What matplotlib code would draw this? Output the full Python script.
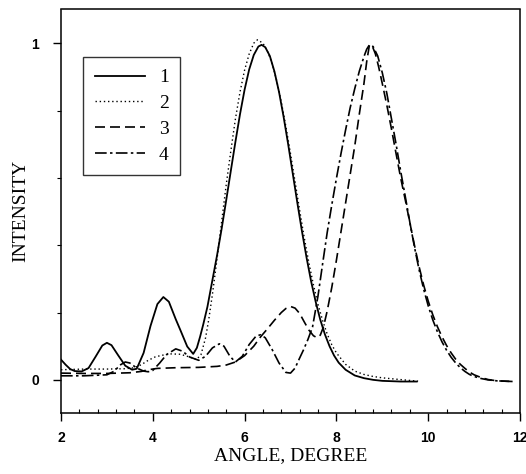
import matplotlib
matplotlib.use('Agg')
import matplotlib.pyplot as plt
from matplotlib.ticker import MultipleLocator, FixedLocator

# curve 1 (solid)
angle_1 = [2.00, 2.10, 2.20, 2.30, 2.45, 2.60, 2.75, 2.90, 3.00, 3.10, 3.25, 3.40,
           3.55, 3.65, 3.80, 3.95, 4.10, 4.23, 4.35, 4.50, 4.60, 4.75, 4.88, 4.96,
           5.03, 5.10, 5.19, 5.30, 5.40, 5.50, 5.60, 5.70, 5.80, 5.90, 6.00, 6.10,
           6.20, 6.30, 6.37, 6.45, 6.55, 6.65, 6.75, 6.85, 6.95, 7.05, 7.15, 7.25,
           7.35, 7.45, 7.55, 7.65, 7.75, 7.85, 7.95, 8.05, 8.20, 8.40, 8.60, 8.80,
           9.00, 9.40, 9.75]
intensity_1 = [0.060, 0.045, 0.032, 0.026, 0.025, 0.035, 0.068, 0.102, 0.110, 0.103, 0.072, 0.042,
               0.030, 0.033, 0.080, 0.160, 0.225, 0.246, 0.232, 0.180, 0.148, 0.099, 0.077, 0.095,
               0.128, 0.165, 0.217, 0.297, 0.370, 0.449, 0.534, 0.621, 0.707, 0.789, 0.862, 0.922,
               0.965, 0.990, 0.995, 0.988, 0.962, 0.916, 0.855, 0.781, 0.699, 0.612, 0.525, 0.441,
               0.363, 0.292, 0.231, 0.178, 0.135, 0.100, 0.072, 0.051, 0.030, 0.013, 0.005, 0.000,
               -0.003, -0.005, -0.005]

# curve 2 (dotted)
angle_2 = [2.00, 2.50, 3.00, 3.40, 3.60, 3.75, 3.90, 4.05, 4.20, 4.40, 4.60, 4.80,
           4.95, 5.05, 5.15, 5.22, 5.30, 5.40, 5.50, 5.60, 5.70, 5.80, 5.90, 6.00,
           6.10, 6.20, 6.28, 6.40, 6.50, 6.60, 6.70, 6.80, 6.90, 7.00, 7.10, 7.20,
           7.30, 7.40, 7.50, 7.60, 7.70, 7.80, 7.90, 8.00, 8.20, 8.40, 8.60, 8.80,
           9.00, 9.30, 9.78]
intensity_2 = [0.030, 0.032, 0.032, 0.033, 0.036, 0.045, 0.058, 0.068, 0.073, 0.077, 0.076, 0.068,
               0.060, 0.075, 0.125, 0.180, 0.255, 0.360, 0.470, 0.580, 0.680, 0.775, 0.855, 0.920,
               0.968, 1.000, 1.010, 1.000, 0.975, 0.940, 0.888, 0.825, 0.752, 0.672, 0.588, 0.503,
               0.422, 0.348, 0.282, 0.224, 0.176, 0.136, 0.104, 0.080, 0.046, 0.026, 0.016, 0.010,
               0.006, 0.002, -0.004]

# curve 3 (dashed)
angle_3 = [2.00, 2.50, 3.00, 3.50, 3.75, 3.90, 4.10, 4.50, 5.00, 5.40, 5.60, 5.80,
           6.00, 6.20, 6.35, 6.50, 6.65, 6.80, 6.90, 7.00, 7.10, 7.20, 7.30, 7.40,
           7.50, 7.58, 7.65, 7.72, 7.80, 7.90, 8.00, 8.10, 8.20, 8.30, 8.40, 8.50,
           8.60, 8.66, 8.72, 8.78, 8.85, 8.92, 9.00, 9.10, 9.20, 9.30, 9.40, 9.50,
           9.60, 9.70, 9.80, 9.90, 10.00, 10.10, 10.20, 10.30, 10.40, 10.50, 10.60,
           10.70, 10.80, 10.90, 11.00, 11.15, 11.30, 11.50, 11.85]
intensity_3 = [0.020, 0.019, 0.019, 0.021, 0.025, 0.030, 0.034, 0.036, 0.037, 0.040, 0.044, 0.053,
               0.072, 0.100, 0.128, 0.152, 0.177, 0.200, 0.212, 0.218, 0.213, 0.197, 0.172, 0.148,
               0.131, 0.125, 0.133, 0.158, 0.205, 0.275, 0.355, 0.440, 0.525, 0.610, 0.695, 0.790,
               0.880, 0.945, 0.995, 0.992, 0.968, 0.930, 0.880, 0.815, 0.745, 0.672, 0.600, 0.535,
               0.467, 0.400, 0.337, 0.282, 0.234, 0.193, 0.158, 0.128, 0.102, 0.080, 0.061,
               0.046, 0.034, 0.023, 0.015, 0.007, 0.001, -0.003, -0.005]

# curve 4 (dash-dot)
angle_4 = [2.00, 2.50, 3.00, 3.15, 3.30, 3.40, 3.50, 3.65, 3.80, 3.90, 4.00, 4.15,
           4.30, 4.50, 4.65, 4.80, 5.00, 5.15, 5.30, 5.45, 5.55, 5.68, 5.80, 5.95,
           6.10, 6.25, 6.35, 6.45, 6.60, 6.75, 6.90, 7.00, 7.10, 7.20, 7.28, 7.38,
           7.48, 7.60, 7.70, 7.80, 7.90, 8.00, 8.10, 8.20, 8.30, 8.40, 8.50, 8.60,
           8.66, 8.72, 8.80, 8.90, 9.00, 9.10, 9.20, 9.30, 9.40, 9.50, 9.60, 9.70,
           9.80, 9.90, 10.00, 10.10, 10.20, 10.30, 10.40, 10.50, 10.60, 10.70, 10.80,
           10.90, 11.00, 11.15, 11.30, 11.50, 11.85]
intensity_4 = [0.012, 0.012, 0.015, 0.025, 0.045, 0.053, 0.050, 0.035, 0.026, 0.024, 0.028, 0.050,
               0.075, 0.092, 0.085, 0.068, 0.058, 0.070, 0.095, 0.107, 0.100, 0.070, 0.053, 0.070,
               0.105, 0.130, 0.134, 0.125, 0.090, 0.050, 0.022, 0.020, 0.035, 0.065, 0.088, 0.120,
               0.157, 0.250, 0.345, 0.438, 0.520, 0.598, 0.672, 0.742, 0.808, 0.865, 0.917, 0.960,
               0.982, 0.995, 0.990, 0.962, 0.912, 0.850, 0.775, 0.700, 0.620, 0.545, 0.468, 0.395,
               0.328, 0.270, 0.220, 0.178, 0.143, 0.113, 0.088, 0.067, 0.050, 0.036, 0.025,
               0.016, 0.010, 0.004, 0.000, -0.003, -0.005]

labels = ['1', '2', '3', '4']

serif = ['Liberation Serif', 'DejaVu Serif']

fig = plt.figure(figsize=(5.26, 4.74), dpi=100)
ax = fig.add_axes([61 / 526, 61.5 / 474, 459 / 526, 403 / 474])

ax.plot(angle_1, intensity_1, color='black', lw=1.3, linestyle='-', label=labels[0])
ax.plot(angle_2, intensity_2, color='black', lw=1.0, linestyle=(0, (1, 2)), label=labels[1])
ax.plot(angle_3, intensity_3, color='black', lw=1.2, linestyle=(0, (6, 3)), label=labels[2])
ax.plot(angle_4, intensity_4, color='black', lw=1.2, linestyle=(0, (7, 2, 1.5, 2)), label=labels[3])

ax.set_xlim(2, 12)
ax.set_ylim(-0.097, 1.1)

ax.xaxis.set_major_locator(MultipleLocator(2))
ax.xaxis.set_minor_locator(MultipleLocator(0.4))
ax.yaxis.set_major_locator(FixedLocator([0, 1]))
ax.yaxis.set_minor_locator(FixedLocator([0.2, 0.4, 0.6, 0.8]))
ax.tick_params(axis='x', which='major', direction='out', length=6, width=1, pad=7)
ax.tick_params(axis='x', which='minor', direction='in', length=3, width=0.8)
ax.tick_params(axis='y', which='major', direction='out', length=6, width=1, pad=10)
ax.tick_params(axis='y', which='minor', direction='out', length=3, width=0.8)

for lab in ax.get_xticklabels() + ax.get_yticklabels():
    lab.set_family(['Liberation Sans', 'DejaVu Sans'])
    lab.set_fontweight('bold')
    lab.set_fontsize(10)

for sp in ax.spines.values():
    sp.set_linewidth(1.1)

ax.set_xlabel('ANGLE, DEGREE', family=serif, fontsize=14, labelpad=2)
ax.set_ylabel('INTENSITY', family=serif, fontsize=14, labelpad=1)

leg = ax.legend(loc='upper left', bbox_to_anchor=(0.048, 0.882), borderaxespad=0,
                frameon=True, fancybox=False, edgecolor='black', handlelength=2.6,
                handletextpad=0.7, labelspacing=0.42, borderpad=0.6,
                prop={'family': serif, 'size': 14})
leg.get_frame().set_linewidth(1.0)

fig.savefig('out.png', dpi=100, facecolor='white')
